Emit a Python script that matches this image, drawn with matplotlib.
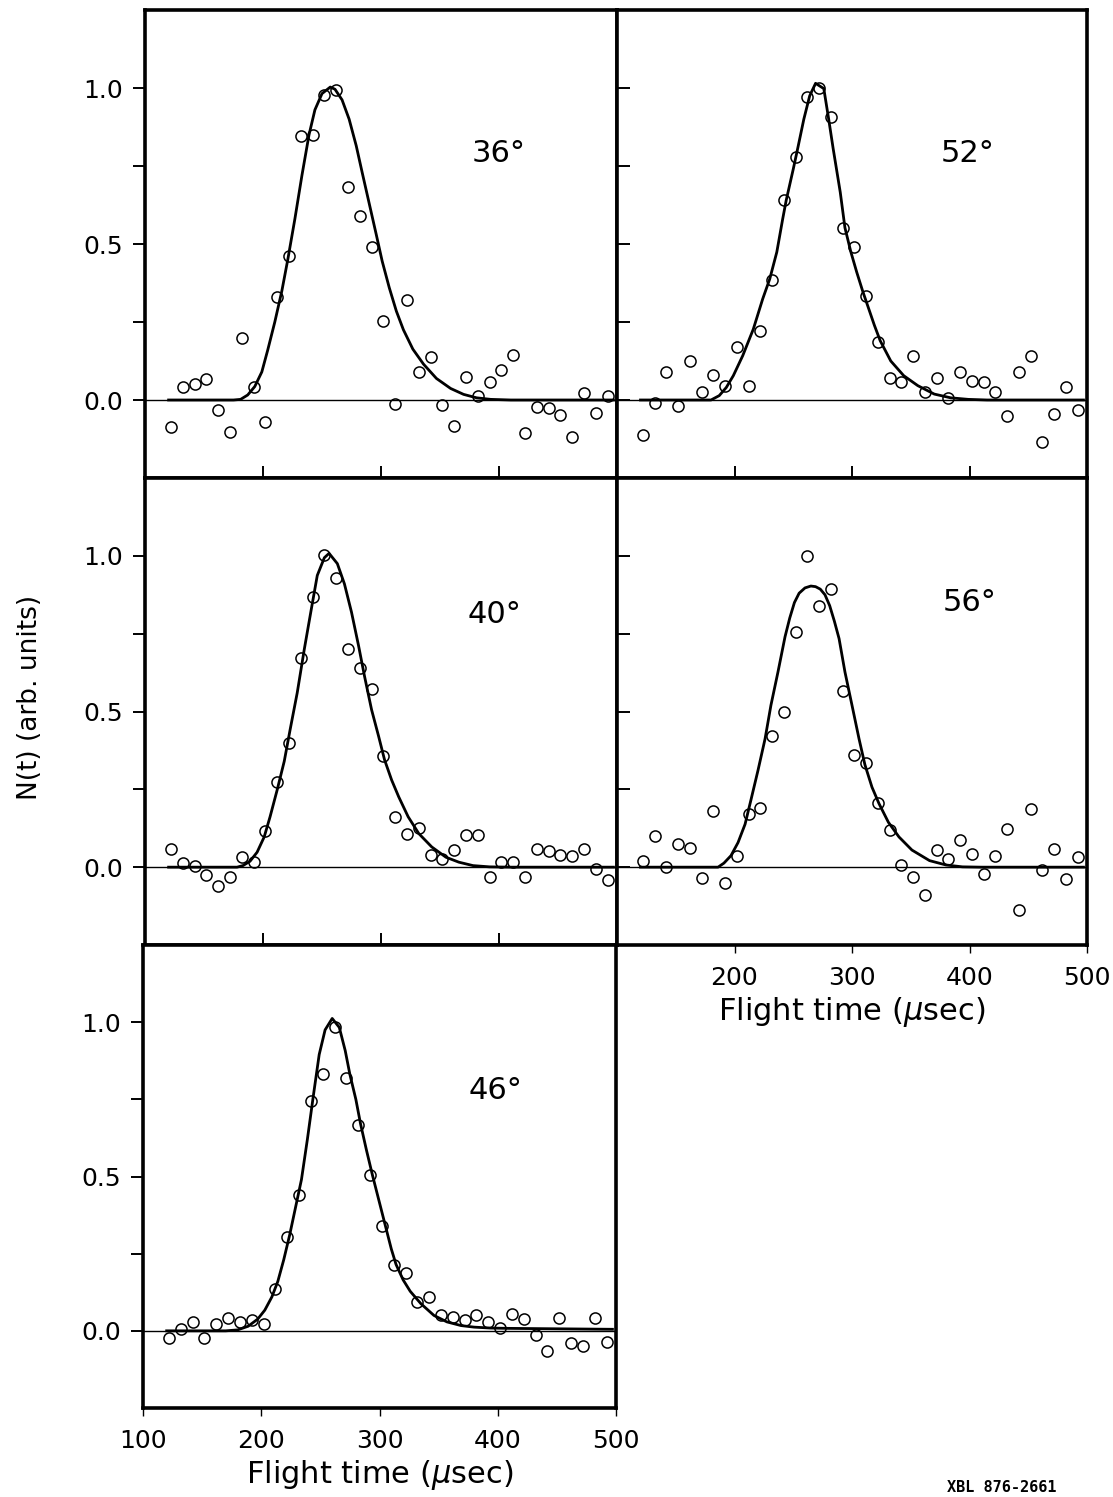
import matplotlib
matplotlib.use("Agg")
import matplotlib.pyplot as plt

plt.rcParams['font.family'] = ['DejaVu Sans']
plt.rcParams['mathtext.fontset'] = 'dejavusans'

# channel times (usec) of the measured points
t_chan = [122, 132, 142, 152, 162, 172, 182, 192, 202, 212,
          222, 232, 242, 252, 262, 272, 282, 292, 302, 312,
          322, 332, 342, 352, 362, 372, 382, 392, 402, 412,
          422, 432, 442, 452, 462, 472, 482, 492]

# measured N(t), one list per angle
n36 = [-0.088, 0.041, 0.051, 0.067, -0.032, -0.104, 0.20, 0.043, -0.072, 0.33,
       0.46, 0.845, 0.85, 0.979, 0.995, 0.682, 0.591, 0.489, 0.252, -0.013,
       0.319, 0.09, 0.138, -0.016, -0.083, 0.075, 0.013, 0.057, 0.096, 0.144,
       -0.107, -0.023, -0.025, -0.047, -0.12, 0.023, -0.042, 0.012]
n52 = [-0.112, -0.01, 0.091, -0.018, 0.125, 0.027, 0.081, 0.044, 0.17, 0.046,
       0.22, 0.386, 0.64, 0.78, 0.971, 1.0, 0.906, 0.552, 0.49, 0.334,
       0.187, 0.07, 0.059, 0.142, 0.027, 0.071, 0.007, 0.089, 0.061, 0.057,
       0.025, -0.05, 0.089, 0.142, -0.136, -0.046, 0.043, -0.033]
n40 = [0.059, 0.014, 0.003, -0.024, -0.061, -0.03, 0.032, 0.016, 0.115, 0.275,
       0.399, 0.672, 0.867, 1.002, 0.93, 0.70, 0.64, 0.571, 0.358, 0.162,
       0.106, 0.126, 0.038, 0.025, 0.054, 0.103, 0.102, -0.03, 0.018, 0.016,
       -0.032, 0.057, 0.052, 0.038, 0.036, 0.059, -0.005, -0.041]
n56 = [0.021, 0.10, 0.001, 0.075, 0.06, -0.036, 0.179, -0.052, 0.036, 0.172,
       0.19, 0.42, 0.498, 0.756, 1.0, 0.839, 0.893, 0.566, 0.361, 0.336,
       0.207, 0.12, 0.006, -0.033, -0.091, 0.056, 0.025, 0.086, 0.041, -0.023,
       0.037, 0.123, -0.136, 0.186, -0.008, 0.057, -0.038, 0.033]
n46 = [-0.023, 0.007, 0.029, -0.023, 0.021, 0.041, 0.029, 0.035, 0.021, 0.136,
       0.305, 0.441, 0.744, 0.832, 0.985, 0.82, 0.666, 0.505, 0.341, 0.213,
       0.188, 0.092, 0.111, 0.05, 0.044, 0.035, 0.052, 0.029, 0.009, 0.055,
       0.038, -0.012, -0.066, 0.041, -0.039, -0.048, 0.041, -0.037]

# fitted curves
c36_t = [120, 175, 181, 187, 193, 199, 204, 210, 216, 221, 227, 233, 239, 244,
         250, 257, 261, 267, 273, 279, 284, 290, 296, 301, 307, 313, 319, 327,
         336, 347, 359, 370, 381, 393, 410, 497]
c36_n = [0, 0, 0.002, 0.016, 0.043, 0.09, 0.16, 0.25, 0.35, 0.45, 0.58, 0.72,
         0.85, 0.93, 0.982, 1.003, 0.996, 0.962, 0.90, 0.815, 0.73, 0.63,
         0.53, 0.445, 0.36, 0.285, 0.225, 0.163, 0.115, 0.069, 0.037, 0.018,
         0.007, 0.002, 0, 0]
c52_t = [120, 180, 187, 193, 199, 207, 216, 224, 230, 236, 241, 244, 250, 254,
         259, 264, 269, 276, 280, 284, 290, 294, 299, 304, 309, 314, 319, 324,
         333, 344, 356, 370, 384, 399, 415, 497]
c52_n = [0, 0, 0.014, 0.04, 0.078, 0.142, 0.227, 0.324, 0.388, 0.474, 0.58,
         0.64, 0.74, 0.81, 0.90, 0.975, 1.015, 0.998, 0.904, 0.805, 0.666,
         0.552, 0.475, 0.41, 0.35, 0.295, 0.24, 0.19, 0.125, 0.078, 0.046,
         0.019, 0.007, 0.002, 0, 0]
c40_t = [120, 178, 183, 189, 195, 201, 206, 212, 218, 223, 229, 235, 241, 246,
         252, 256, 263, 269, 275, 281, 286, 292, 298, 303, 309, 315, 323, 332,
         343, 355, 366, 378, 392, 410, 497]
c40_n = [0, 0, 0.005, 0.019, 0.048, 0.097, 0.162, 0.248, 0.34, 0.442, 0.56, 0.70,
         0.83, 0.937, 0.994, 1.008, 0.975, 0.91, 0.819, 0.711, 0.614, 0.506,
         0.42, 0.345, 0.28, 0.226, 0.162, 0.108, 0.065, 0.032, 0.016, 0.005,
         0.001, 0, 0]
c56_t = [120, 186, 191, 197, 203, 209, 214, 220, 226, 231, 237, 243, 247, 251,
         255, 260, 265, 269, 273, 277, 281, 285, 289, 294, 300, 306, 311, 317,
         323, 331, 340, 351, 366, 380, 394, 410, 497]
c56_n = [0, 0, 0.013, 0.037, 0.079, 0.138, 0.216, 0.311, 0.412, 0.52, 0.627,
         0.74, 0.80, 0.85, 0.88, 0.897, 0.903, 0.901, 0.893, 0.875, 0.84, 0.79,
         0.734, 0.627, 0.52, 0.412, 0.329, 0.257, 0.204, 0.144, 0.097, 0.055,
         0.021, 0.007, 0.001, 0, 0]
c46_t = [120, 170, 180, 189, 197, 203, 209, 214, 219, 224, 229, 234, 239, 244,
         249, 254, 260, 266, 271, 275, 280, 284, 289, 294, 300, 305,
         310, 314, 320, 326, 335, 346, 357, 369, 380, 394, 409, 497]
c46_n = [0, 0, 0.003, 0.015, 0.038, 0.067, 0.11, 0.16, 0.23, 0.31, 0.40,
         0.49, 0.62, 0.76, 0.895, 0.975, 1.012, 0.983, 0.908, 0.83,
         0.75, 0.67, 0.585, 0.505, 0.415, 0.34, 0.265, 0.215, 0.165, 0.128,
         0.088, 0.05, 0.029, 0.017, 0.012, 0.009, 0.008, 0.005]

angles = ['36°', '52°', '40°', '56°', '46°']
label_pos = [(400, 0.79), (398, 0.79), (396, 0.81), (400, 0.85), (398, 0.78)]

W, H = 1113, 1497


def box(x0, y0, x1, y1):
    return [x0 / W, 1 - y1 / H, (x1 - x0) / W, (y1 - y0) / H]


# pixel boxes of the five panels
boxes = [box(145, 10, 617, 478), box(617, 10, 1087, 478),
         box(145, 478, 617, 945), box(617, 478, 1087, 945),
         box(143, 945, 616, 1408)]
points = [n36, n52, n40, n56, n46]
curves = [(c36_t, c36_n), (c52_t, c52_n), (c40_t, c40_n),
          (c56_t, c56_n), (c46_t, c46_n)]

fig = plt.figure(figsize=(W / 100, H / 100), dpi=100)

for i in range(5):
    ax = fig.add_axes(boxes[i])
    left = i in (0, 2, 4)
    bottom = i in (3, 4)

    ax.axhline(0, color='black', lw=1.0, zorder=1)
    ax.plot(curves[i][0], curves[i][1], color='black', lw=2.0, zorder=2,
            solid_joinstyle='round')
    ax.plot(t_chan, points[i], 'o', mfc='none', mec='black', ms=8, mew=1.1, zorder=3)
    ax.text(label_pos[i][0], label_pos[i][1], angles[i], fontsize=22,
            ha='center', va='center')

    ax.set_xlim(100, 500)
    ax.set_ylim(-0.25, 1.25)
    for s in ax.spines.values():
        s.set_linewidth(2.6)

    ax.set_yticks([0, 0.25, 0.5, 0.75, 1.0])
    if left:
        ax.set_yticklabels(['0.0', '', '0.5', '', '1.0'])
        ax.tick_params(axis='y', direction='out', length=9, width=1.4,
                       labelsize=18, pad=7)
    else:
        ax.tick_params(axis='y', direction='in', length=9, width=1.4,
                       labelleft=False)

    if bottom:
        if i == 4:
            ax.set_xticks([100, 200, 300, 400, 500])
        else:
            ax.set_xticks([200, 300, 400, 500])
        ax.tick_params(axis='x', direction='out', length=6, width=1.0,
                       labelsize=18, pad=9)
        ax.set_xlabel(r'Flight time ($\mu$sec)', fontsize=22, labelpad=4)
    else:
        ax.set_xticks([200, 300, 400])
        ax.tick_params(axis='x', direction='in', length=9, width=1.4,
                       labelbottom=False)

fig.text(30 / W, 1 - 697 / H, 'N(t) (arb. units)', rotation=90, fontsize=19,
         ha='center', va='center')
fig.text(947 / W, 1 - 1495 / H, 'XBL 876-2661', fontsize=11,
         family='DejaVu Sans Mono', weight='bold', ha='left', va='bottom')

fig.savefig('out.png', dpi=100)
